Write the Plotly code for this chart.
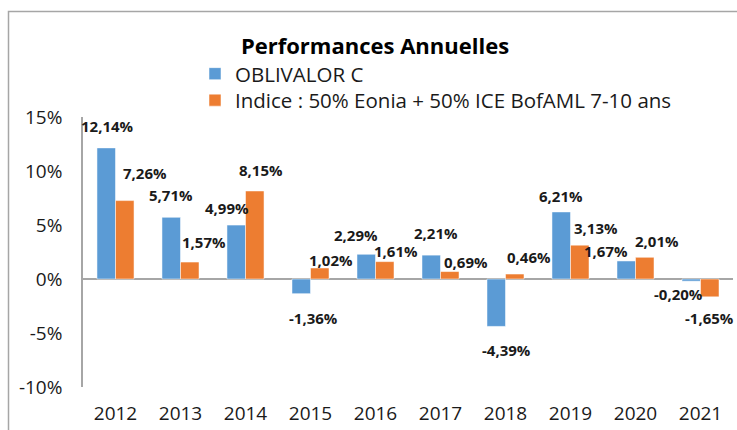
import plotly.graph_objects as go

years = ["2012", "2013", "2014", "2015", "2016", "2017", "2018", "2019", "2020", "2021"]
oblivalor = [12.14, 5.71, 4.99, -1.36, 2.29, 2.21, -4.39, 6.21, 1.67, -0.20]
indice = [7.26, 1.57, 8.15, 1.02, 1.61, 0.69, 0.46, 3.13, 2.01, -1.65]
series_names = ["OBLIVALOR C", "Indice : 50% Eonia + 50% ICE BofAML 7-10 ans"]
ytick_vals = [-10, -5, 0, 5, 10, 15]
ytick_text = ["-10%", "-5%", "0%", "5%", "10%", "15%"]

# label nudges in pixels (style only: how far each value label sits from its bar end)
nudge_obl = [(1, -22), (0, -22), (-9, -17), (12, 24), (-10, -19), (5, -22), (10, 24), (0, -16), (-20, -10), (-13, 13)]
nudge_ind = [(20, -28), (14, -20), (6, -21), (11, -8), (11, -11), (16, -10), (14, -17), (16, -17), (12, -16), (0, 21)]

W, H = 737, 430
PL, PR, PT, PB = 83, 733, 117, 392  # plot area in pixels
L, R, T, B = PL, W - PR, PT, H - PB
PW, PH = PR - PL, PB - PT
BLUE, ORANGE = "#5B9BD5", "#ED7D31"
FONT = "Open Sans"
BARGAP = 0.43


def fmt(v):
    return ("%.2f%%" % v).replace(".", ",")


def px_x(p):
    return (p - PL) / PW


def px_y(p):
    return (PB - p) / PH


xpos = list(range(len(years)))

fig = go.Figure()
for name, vals, col, lg in [(series_names[0], oblivalor, BLUE, "legend"), (series_names[1], indice, ORANGE, "legend2")]:
    fig.add_trace(go.Bar(
        x=xpos, y=vals, name=name, legend=lg,
        marker=dict(color=col, line=dict(color="rgba(255,255,255,0.5)", width=1)),
        customdata=years, hovertemplate="%{customdata}: %{y}<extra></extra>",
    ))

# value labels anchored to each bar's end through the axes
half_bar = (1 - BARGAP) / 4  # in category units
annotations = []
for vals, nud, sign in [(oblivalor, nudge_obl, -1), (indice, nudge_ind, 1)]:
    for i, v, (dx, dy) in zip(xpos, vals, nud):
        annotations.append(dict(
            x=i + sign * half_bar, y=v, xref="x", yref="y", text="<b>%s</b>" % fmt(v), showarrow=False,
            xanchor="center", yanchor="middle",
            xshift=dx, yshift=-dy,
            font=dict(family=FONT, size=15, color="#1a1a1a"),
        ))

fig.add_shape(type="rect", xref="paper", yref="paper",
              x0=px_x(8.5), x1=px_x(760), y0=px_y(460), y1=px_y(9.5),
              line=dict(color="#A6A6A6", width=1.5), layer="below")

leg_common = dict(xanchor="left", yanchor="middle", bgcolor="rgba(0,0,0,0)", itemwidth=30,
                  font=dict(family=FONT, size=20.5, color="#1a1a1a"))
fig.update_layout(
    width=W, height=H,
    margin=dict(l=L, r=R, t=T, b=B),
    paper_bgcolor="white", plot_bgcolor="white",
    barmode="group", bargap=BARGAP, bargroupgap=0,
    font=dict(family=FONT, color="#1a1a1a"),
    title=dict(text="<b>Performances Annuelles</b>", x=375 / W, xref="container", xanchor="center",
               y=1 - 46 / H, yref="container", yanchor="middle",
               font=dict(family=FONT, size=22, color="#000")),
    legend=dict(x=px_x(195), y=px_y(73), **leg_common),
    legend2=dict(x=px_x(195), y=px_y(100), **leg_common),
    showlegend=True,
    annotations=annotations,
)
fig.update_xaxes(range=[-0.5, len(years) - 0.5], tickvals=xpos, ticktext=years,
                 showgrid=False, showline=False, ticks="", zeroline=False,
                 tickfont=dict(family=FONT, size=19, color="#1a1a1a"), ticklabelstandoff=13)
fig.update_yaxes(range=[-10, 15], tickvals=ytick_vals, ticktext=ytick_text, showgrid=False,
                 showline=True, linecolor="#A6A6A6", linewidth=1.5,
                 zeroline=True, zerolinecolor="#A6A6A6", zerolinewidth=1.5,
                 ticks="", tickfont=dict(family=FONT, size=19, color="#1a1a1a"), ticklabelstandoff=15)

fig.write_html("out.html", config={"displayModeBar": False},
               post_script="document.body.style.margin='0';document.body.style.overflow='hidden';")
